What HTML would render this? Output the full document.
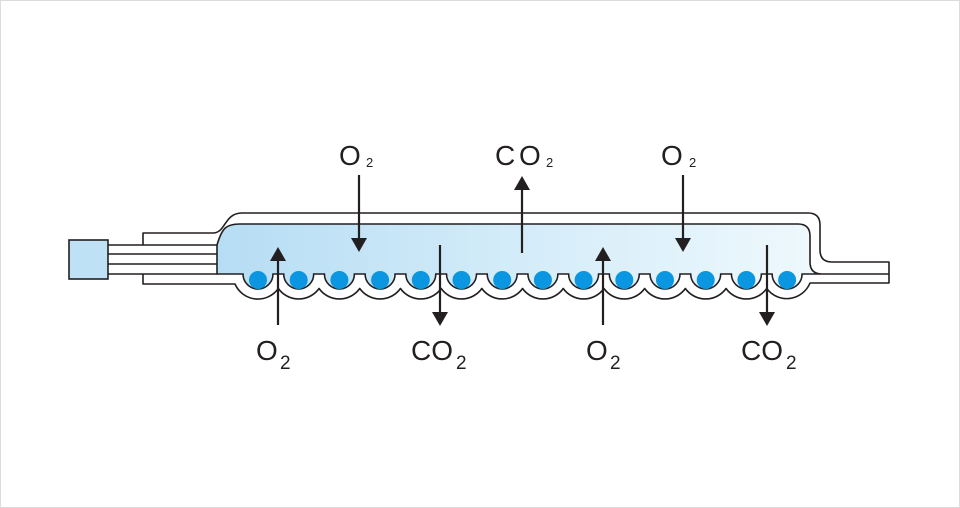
<!DOCTYPE html>
<html><head><meta charset="utf-8"><style>
html,body{margin:0;padding:0;background:#fff}
svg{display:block}
text{font-family:"Liberation Sans",Arial,sans-serif;fill:#231f20}
</style></head><body>
<svg width="960" height="508" viewBox="0 0 960 508" xmlns="http://www.w3.org/2000/svg">
<defs>
<linearGradient id="g" x1="217" y1="0" x2="810" y2="0" gradientUnits="userSpaceOnUse">
<stop offset="0" stop-color="#b6ddf4"/><stop offset="0.5" stop-color="#d3ecf9"/><stop offset="1" stop-color="#eef8fd"/>
</linearGradient>
</defs>
<rect x="0.5" y="0.5" width="959" height="507" fill="#fff" stroke="#dcdcdc"/>
<g stroke="#231f20" stroke-width="1.6" fill="none">
<!-- outer sheath -->
<path fill="#fff" stroke-linejoin="round" d="M143,245 V233 H213 C226,233 224,213 242,213 H808 Q820,213 820,225 V250 Q820,262 832,262 H889 V283 H810
A25 25 0 0 1 766.75 288.5 A25 25 0 0 1 726.05 288.5 A25 25 0 0 1 685.35 288.5 A25 25 0 0 1 644.65 288.5
A25 25 0 0 1 603.95 288.5 A25 25 0 0 1 563.25 288.5 A25 25 0 0 1 522.55 288.5 A25 25 0 0 1 481.85 288.5
A25 25 0 0 1 441.15 288.5 A25 25 0 0 1 400.45 288.5 A25 25 0 0 1 359.75 288.5 A25 25 0 0 1 319.05 288.5
A25 25 0 0 1 278.35 288.5 A25 25 0 0 1 235 284 H143 V274"/>
<!-- chamber -->
<path fill="url(#g)" d="M217,245 C222,228 226,224 240,224 H798 Q810,224 810,236 V262 Q810,274 822,274
L802.1,274 A15 15 0 0 1 772.1 274 L761.4,274 A15 15 0 0 1 731.4 274 L720.7,274 A15 15 0 0 1 690.7 274
L680,274 A15 15 0 0 1 650 274 L639.3,274 A15 15 0 0 1 609.3 274 L598.6,274 A15 15 0 0 1 568.6 274
L557.9,274 A15 15 0 0 1 527.9 274 L517.2,274 A15 15 0 0 1 487.2 274 L476.5,274 A15 15 0 0 1 446.5 274
L435.8,274 A15 15 0 0 1 405.8 274 L395.1,274 A15 15 0 0 1 365.1 274 L354.4,274 A15 15 0 0 1 324.4 274
L313.7,274 A15 15 0 0 1 283.7 274 L273,274 A15 15 0 0 1 243 274 L217,274 Z"/>
<line x1="822" y1="274" x2="889" y2="274"/>
<!-- tubes -->
<line x1="108" y1="245" x2="217" y2="245"/>
<line x1="108" y1="254" x2="217" y2="254"/>
<line x1="108" y1="264" x2="217" y2="264"/>
<line x1="108" y1="274" x2="217" y2="274"/>
<rect x="69" y="240" width="39" height="39" fill="#bfe1f5"/>
</g>
<g fill="#0a96e0">
<circle cx="258" cy="280" r="9"/><circle cx="298.7" cy="280" r="9"/><circle cx="339.4" cy="280" r="9"/>
<circle cx="380.1" cy="280" r="9"/><circle cx="420.8" cy="280" r="9"/><circle cx="461.5" cy="280" r="9"/>
<circle cx="502.2" cy="280" r="9"/><circle cx="542.9" cy="280" r="9"/><circle cx="583.6" cy="280" r="9"/>
<circle cx="624.3" cy="280" r="9"/><circle cx="665" cy="280" r="9"/><circle cx="705.7" cy="280" r="9"/>
<circle cx="746.4" cy="280" r="9"/><circle cx="787.1" cy="280" r="9"/>
</g>
<!-- arrows -->
<g stroke="#231f20" stroke-width="2.2">
<line x1="359" y1="175" x2="359" y2="240"/>
<line x1="683" y1="175" x2="683" y2="240"/>
<line x1="522" y1="188" x2="522" y2="253"/>
<line x1="278" y1="258" x2="278" y2="325"/>
<line x1="603" y1="258" x2="603" y2="325"/>
<line x1="440" y1="245" x2="440" y2="314"/>
<line x1="767" y1="245" x2="767" y2="314"/>
</g>
<g fill="#231f20">
<path d="M351,238 H367 L359,252 Z"/>
<path d="M675,238 H691 L683,252 Z"/>
<path d="M514,190 H530 L522,176 Z"/>
<path d="M270,261 H286 L278,247 Z"/>
<path d="M595,261 H611 L603,247 Z"/>
<path d="M432,312 H448 L440,326 Z"/>
<path d="M759,312 H775 L767,326 Z"/>
</g>
<!-- labels -->
<g font-size="28">
<text x="339" y="165">O</text><text x="366" y="167" font-size="13">2</text>
<text x="495" y="165">C</text><text x="519" y="165">O</text><text x="546" y="167" font-size="13">2</text>
<text x="661" y="165">O</text><text x="689" y="167" font-size="13">2</text>
<text x="256" y="360">O</text><text x="280" y="369" font-size="19">2</text>
<text x="411" y="360">CO</text><text x="456" y="369" font-size="19">2</text>
<text x="586" y="360">O</text><text x="610" y="369" font-size="19">2</text>
<text x="741" y="360">CO</text><text x="786" y="369" font-size="19">2</text>
</g>
</svg>
</body></html>
